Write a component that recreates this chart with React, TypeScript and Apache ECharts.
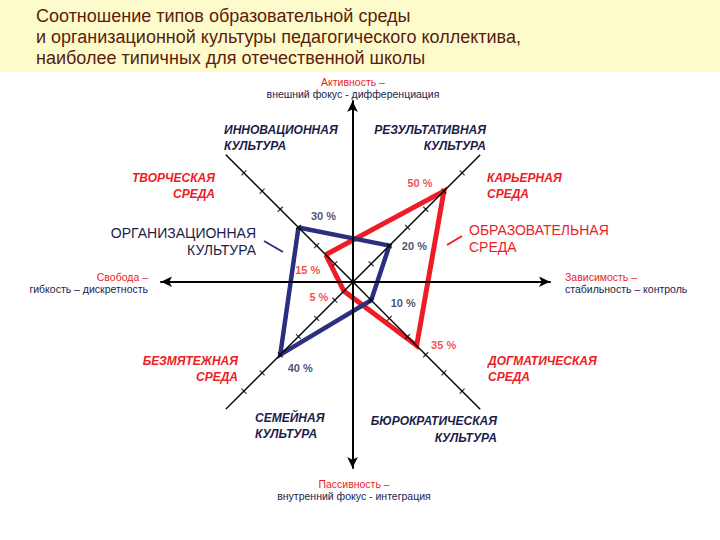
import React, { useEffect, useRef } from "react";
import * as echarts from "echarts";

// Directions of the four diagonal scales (degrees, counter-clockwise from east)
const quadrantNames = ["NW", "NE", "SE", "SW"];
const quadrantAngles = [135, 45, 315, 225];
// Образовательная среда (red): творческая, карьерная, догматическая, безмятежная
const environmentValues = [15, 50, 35, 5];
// Организационная культура (blue): инновационная, результативная, бюрократическая, семейная
const cultureValues = [30, 20, 10, 40];
// tick marks along the diagonal scales (%)
const tickValues = [10, 20, 30, 40, 50, 60];
// how far each diagonal scale runs (%)
const diagonalExtent = [72, 70, 72, 70];

const titleText =
  "Соотношение типов образовательной среды\nи организационной культуры педагогического коллектива,\nнаиболее типичных для отечественной школы";

const RED = "#ee1c25";
const NAVY = "#2b2f7e";
const TEXT_NAVY = "#1c1d4a";
const FONT = '"Liberation Sans", Arial, sans-serif';

function buildOption() {
  const closed = (vals: number[]) => {
    const pts = vals.map((v, i) => [v, quadrantAngles[i]]);
    pts.push(pts[0]);
    return pts;
  };

  const envLabelOffsets = [
    [-18, 15],
    [-24, -8],
    [27, -1],
    [-25, 6],
  ];
  const cultureLabelOffsets = [
    [25, -11],
    [25, 0],
    [32, 3],
    [20, 13],
  ];

  const labelSeries = (vals: number[], offs: number[][], color: string) => ({
    type: "scatter",
    coordinateSystem: "polar",
    symbol: "circle",
    symbolSize: 1,
    itemStyle: { color: "rgba(0,0,0,0)" },
    z: 8,
    silent: true,
    data: vals.map((v, i) => ({
      value: [v, quadrantAngles[i]],
      label: { offset: offs[i] },
    })),
    label: {
      show: true,
      position: "inside",
      formatter: (p: any) => `${p.value[0]} %`,
      color,
      fontFamily: FONT,
      fontSize: 11,
      fontWeight: "bold",
    },
  });

  const diagSeries = (a: number, b: number) => ({
    type: "line",
    coordinateSystem: "polar",
    symbol: "none",
    z: 5,
    silent: true,
    lineStyle: { color: "#000", width: 1.4 },
    data: [
      [diagonalExtent[a], quadrantAngles[a]],
      [diagonalExtent[b], quadrantAngles[b]],
    ],
  });

  const tickSeries = (idxs: number[], rotate: number) => ({
    type: "scatter",
    coordinateSystem: "polar",
    symbol: "rect",
    symbolSize: [1.2, 7],
    symbolRotate: rotate,
    z: 5,
    silent: true,
    itemStyle: { color: "#000" },
    data: idxs.flatMap((i) => tickValues.map((t) => [t, quadrantAngles[i]])),
  });

  const text = (
    x: number,
    y: number,
    t: string,
    color: string,
    align: string,
    size: number,
    bold: boolean,
    italic: boolean,
    lh: number
  ) => ({
    type: "text",
    x,
    y,
    z: 10,
    style: {
      text: t,
      fill: color,
      align,
      verticalAlign: "top",
      fontFamily: FONT,
      fontSize: size,
      fontWeight: bold ? "bold" : "normal",
      fontStyle: italic ? "italic" : "normal",
      lineHeight: lh,
    },
  });

  const axisCommon = {
    type: "value",
    axisTick: { show: false },
    axisLabel: { show: false },
    splitLine: { show: false },
    z: 6,
    axisLine: {
      show: true,
      onZero: true,
      symbol: ["arrow", "arrow"],
      symbolSize: [8, 11],
      lineStyle: { color: "#000", width: 2 },
    },
  };

  return {
    animation: false,
    backgroundColor: "#ffffff",
    title: {
      text: titleText,
      left: 31,
      top: 0,
      textStyle: {
        fontFamily: FONT,
        fontSize: 18,
        fontWeight: "normal",
        color: "#5a1d0d",
        lineHeight: 21,
      },
    },
    grid: { left: 161, right: 170, top: 101, bottom: 72 },
    xAxis: { ...axisCommon, min: -97, max: 100 },
    yAxis: { ...axisCommon, min: -103, max: 100 },
    polar: { center: [353, 282], radius: 180 },
    angleAxis: {
      type: "value",
      min: 0,
      max: 360,
      startAngle: 0,
      clockwise: false,
      show: false,
    },
    radiusAxis: { type: "value", min: 0, max: 70, show: false },
    series: [
      {
        name: "Образовательная среда",
        type: "line",
        coordinateSystem: "polar",
        symbol: "none",
        z: 3,
        lineStyle: { color: RED, width: 5, join: "miter" },
        data: closed(environmentValues),
      },
      {
        name: "Организационная культура",
        type: "line",
        coordinateSystem: "polar",
        symbol: "none",
        z: 4,
        lineStyle: { color: NAVY, width: 4.5, join: "miter" },
        data: closed(cultureValues),
      },
      diagSeries(0, 2),
      diagSeries(1, 3),
      tickSeries([1, 3], 45),
      tickSeries([0, 2], -45),
      labelSeries(environmentValues, envLabelOffsets, RED),
      labelSeries(cultureValues, cultureLabelOffsets, TEXT_NAVY),
    ],
    graphic: [
      {
        type: "rect",
        z: -10,
        shape: { x: 0, y: 0, width: 720, height: 72 },
        style: { fill: "#fdfbcb" },
      },
      // axis captions
      text(353, 76, "Активность –", RED, "center", 10.5, false, false, 12),
      text(353, 88, "внешний фокус - дифференциация", TEXT_NAVY, "center", 10.5, false, false, 12),
      text(148, 271, "Свобода –", RED, "right", 10.5, false, false, 12),
      text(148, 283, "гибкость – дискретность", TEXT_NAVY, "right", 10.5, false, false, 12),
      text(565, 271, "Зависимость –", RED, "left", 10.5, false, false, 12),
      text(565, 283, "стабильность – контроль", TEXT_NAVY, "left", 10.5, false, false, 12),
      text(354, 478, "Пассивность –", RED, "center", 10.5, false, false, 12),
      text(354, 490, "внутренний фокус - интеграция", TEXT_NAVY, "center", 10.5, false, false, 12),
      // quadrant captions
      text(224, 122, "ИННОВАЦИОННАЯ\nКУЛЬТУРА", TEXT_NAVY, "left", 12, true, true, 16),
      text(486, 122, "РЕЗУЛЬТАТИВНАЯ\nКУЛЬТУРА", TEXT_NAVY, "right", 12, true, true, 16),
      text(215, 170, "ТВОРЧЕСКАЯ\nСРЕДА", RED, "right", 12, true, true, 16),
      text(487, 170, "КАРЬЕРНАЯ\nСРЕДА", RED, "left", 12, true, true, 16),
      text(256, 224, "ОРГАНИЗАЦИОННАЯ\nКУЛЬТУРА", TEXT_NAVY, "right", 14, false, false, 17),
      text(469, 221, "ОБРАЗОВАТЕЛЬНАЯ\nСРЕДА", RED, "left", 14, false, false, 17),
      text(238, 353, "БЕЗМЯТЕЖНАЯ\nСРЕДА", RED, "right", 12, true, true, 16),
      text(488, 353, "ДОГМАТИЧЕСКАЯ\nСРЕДА", RED, "left", 12, true, true, 16),
      text(255, 410, "СЕМЕЙНАЯ\nКУЛЬТУРА", TEXT_NAVY, "left", 12, true, true, 16),
      text(497, 412, "БЮРОКРАТИЧЕСКАЯ\nКУЛЬТУРА", TEXT_NAVY, "right", 12, true, true, 17),
      // pointer strokes to the two polygons
      {
        type: "line",
        z: 10,
        shape: { x1: 264, y1: 241, x2: 283, y2: 252 },
        style: { stroke: NAVY, lineWidth: 2 },
      },
      {
        type: "line",
        z: 10,
        shape: { x1: 462, y1: 236, x2: 447, y2: 245 },
        style: { stroke: RED, lineWidth: 2 },
      },
    ],
  };
}

export default function App() {
  const ref = useRef<HTMLDivElement>(null);
  useEffect(() => {
    if (!ref.current) return;
    const chart = echarts.init(ref.current, undefined, { renderer: "svg" });
    chart.setOption(buildOption() as any);
    return () => chart.dispose();
  }, []);
  return (
    <div
      ref={ref}
      style={{ position: "fixed", left: 0, top: 0, width: 720, height: 540 }}
    />
  );
}
